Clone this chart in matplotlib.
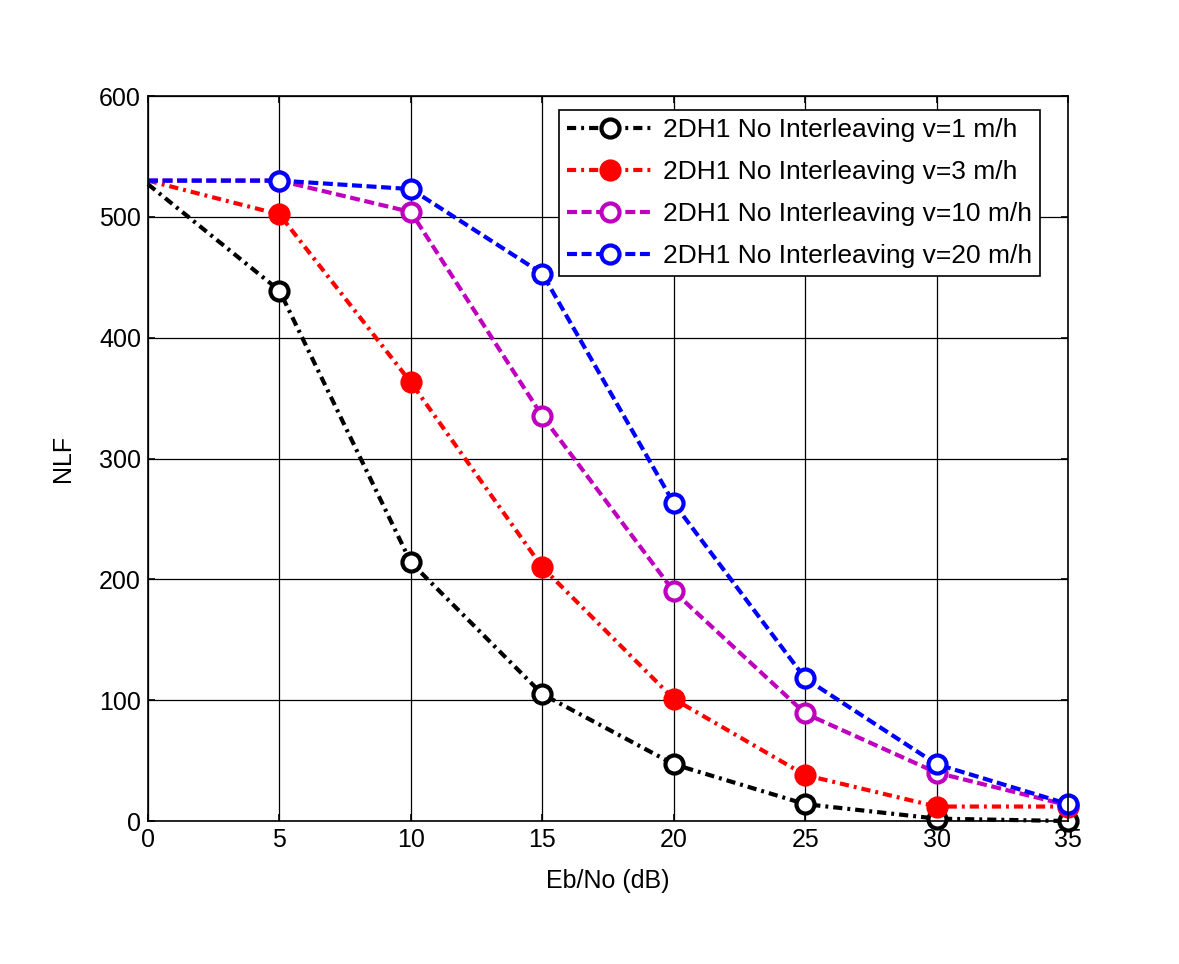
import numpy as np
import matplotlib
matplotlib.use("Agg")
import matplotlib.pyplot as plt

plt.rcParams["font.family"] = ["Liberation Sans", "DejaVu Sans"]

# ── data ────────────────────────────────────────────────────────────────────
EBNO = [0, 5, 10, 15, 20, 25, 30, 35]
NLF_V1 = [527, 439, 214, 105, 47, 14, 2, 0]
NLF_V3 = [530, 502, 363, 210, 101, 38, 12, 12]
NLF_V10 = [530, 530, 504, 335, 190, 89, 40, 13]
NLF_V20 = [530, 530, 523, 453, 263, 118, 47, 14]
LABELS = ["2DH1 No Interleaving v=1 m/h",
          "2DH1 No Interleaving v=3 m/h",
          "2DH1 No Interleaving v=10 m/h",
          "2DH1 No Interleaving v=20 m/h"]

DASHDOT = (2.2, 1.2, 0.7, 1.2)
DASHED = (2.4, 1.1)

fig = plt.figure(figsize=(11.79, 9.64), dpi=100)
ax = fig.add_axes([0.1255, 0.1483, 0.7805, 0.7521])

styles = [
    dict(color="black", dashes=DASHDOT, mfc="white"),
    dict(color="red", dashes=DASHDOT, mfc="red"),
    dict(color="#bf00bf", dashes=DASHED, mfc="white"),
    dict(color="blue", dashes=DASHED, mfc="white"),
]
series = [NLF_V1, NLF_V3, NLF_V10, NLF_V20]

for y, lab, st in zip(series, LABELS, styles):
    ax.plot(EBNO, y, color=st["color"], dashes=st["dashes"], lw=3.0,
            marker="o", ms=13, mew=3, mec=st["color"], mfc=st["mfc"],
            markevery=list(range(1, len(EBNO))), label=lab, clip_on=False)

ax.set_xlim(0, 35)
ax.set_ylim(0, 600)
ax.set_xticks(np.arange(0, 36, 5))
ax.set_yticks(np.arange(0, 601, 100))
ax.grid(True, color="black", lw=0.9, ls="-")
ax.tick_params(direction="in", top=True, right=True, labelsize=18,
               length=5, width=1.2, pad=5)
for s in ax.spines.values():
    s.set_linewidth(1.2)
ax.set_xlabel("Eb/No (dB)", fontsize=18, labelpad=12)
ax.set_ylabel("NLF", fontsize=18, labelpad=17)

leg = ax.legend(loc="upper right", bbox_to_anchor=(0.9696, 0.9807),
                borderaxespad=0, fontsize=19, fancybox=False,
                framealpha=1, edgecolor="black",
                handlelength=3.3, handletextpad=0.35,
                labelspacing=0.68, borderpad=0.3)
leg.get_frame().set_linewidth(1.2)

fig.savefig("out.png", dpi=100)
